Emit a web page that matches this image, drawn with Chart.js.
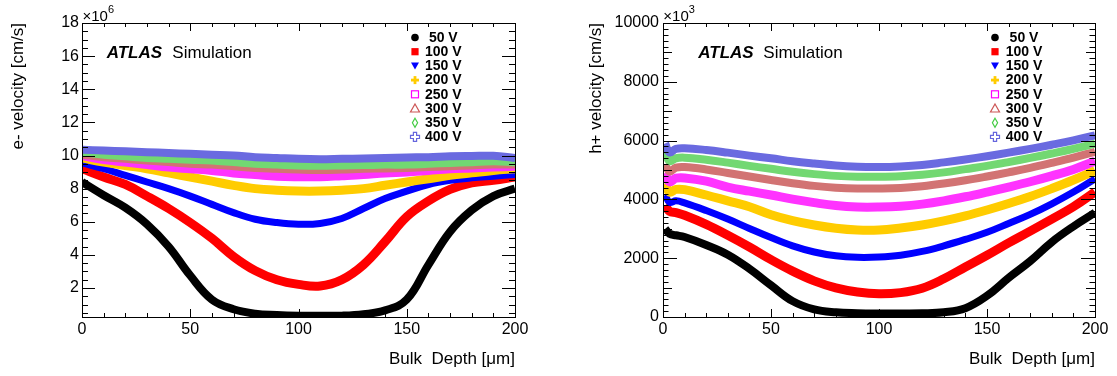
<!DOCTYPE html>
<html><head><meta charset="utf-8">
<script src="https://cdn.jsdelivr.net/npm/chart.js@4.4.0/dist/chart.umd.min.js"></script>
<style>
html,body{margin:0;padding:0;background:#fff;}
#wrap{position:relative;width:1117px;height:376px;overflow:hidden;}
#c1{position:absolute;left:0;top:0;}
#c2{position:absolute;left:558px;top:0;}
</style></head><body>
<div id="wrap"><canvas id="c1" width="558" height="376"></canvas><canvas id="c2" width="559" height="376"></canvas></div>
<script>
// ---------- data ----------
const seriesLabels = [' 50 V', '100 V', '150 V', '200 V', '250 V', '300 V', '350 V', '400 V'];
const xTicks = [0, 50, 100, 150, 200];
const eYTicks = [2, 4, 6, 8, 10, 12, 14, 16, 18];
const hYTicks = [0, 2000, 4000, 6000, 8000, 10000];
const xTitle = 'Bulk  Depth [\u03bcm]';
const eYTitle = 'e- velocity [cm/s]';
const hYTitle = 'h+ velocity [cm/s]';

// electron velocity (x10^6 cm/s) vs bulk depth (um)
const eDepth = [0, 10, 20, 30, 40, 50, 60, 70, 80, 90, 100, 110, 120, 130, 140, 150, 160, 170, 180, 190, 200];
const e50  = [8.4, 7.6, 6.85, 5.85, 4.5, 2.75, 1.3, 0.72, 0.45, 0.37, 0.33, 0.32, 0.33, 0.42, 0.65, 1.3, 3.4, 5.4, 6.7, 7.55, 8.0];
const e100 = [9.2, 8.7, 8.25, 7.55, 6.8, 5.95, 5.0, 3.9, 3.05, 2.5, 2.22, 2.12, 2.5, 3.4, 4.8, 6.3, 7.25, 7.95, 8.35, 8.5, 8.7];
const e150 = [9.55, 9.2, 8.8, 8.4, 8.0, 7.55, 7.05, 6.55, 6.15, 5.95, 5.85, 5.9, 6.2, 6.8, 7.4, 7.85, 8.25, 8.5, 8.65, 8.75, 8.85];
const e200 = [9.85, 9.6, 9.4, 9.2, 8.95, 8.7, 8.45, 8.2, 8.0, 7.9, 7.85, 7.85, 7.9, 8.0, 8.2, 8.4, 8.6, 8.8, 8.95, 9.1, 9.2];
const e250 = [10.0, 9.75, 9.6, 9.45, 9.3, 9.2, 9.1, 8.95, 8.85, 8.75, 8.72, 8.72, 8.78, 8.85, 8.95, 9.0, 9.1, 9.2, 9.25, 9.3, 9.35];
const e300 = [10.05, 9.9, 9.8, 9.7, 9.6, 9.5, 9.45, 9.35, 9.25, 9.2, 9.15, 9.12, 9.15, 9.2, 9.22, 9.25, 9.3, 9.35, 9.4, 9.45, 9.45];
const e350 = [10.2, 10.05, 9.95, 9.85, 9.8, 9.75, 9.7, 9.6, 9.5, 9.45, 9.4, 9.38, 9.4, 9.42, 9.45, 9.45, 9.5, 9.55, 9.6, 9.65, 9.6];
const e400 = [10.35, 10.3, 10.25, 10.2, 10.15, 10.1, 10.05, 10.0, 9.9, 9.85, 9.8, 9.78, 9.8, 9.82, 9.85, 9.88, 9.9, 9.95, 9.97, 9.98, 9.85];

// hole velocity (x10^3 cm/s) vs bulk depth (um)
const hDepth = [1, 3, 6, 10, 20, 30, 40, 50, 60, 70, 80, 90, 100, 110, 120, 130, 140, 150, 160, 170, 180, 190, 200];
const h50  = [3000, 2830, 2780, 2720, 2450, 2120, 1640, 1080, 540, 260, 160, 130, 120, 120, 125, 160, 300, 720, 1330, 1900, 2550, 3080, 3550];
const h100 = [3800, 3600, 3550, 3460, 3150, 2780, 2380, 1950, 1560, 1230, 990, 850, 790, 830, 980, 1300, 1700, 2100, 2520, 2920, 3330, 3750, 4250];
const h150 = [4150, 3900, 3950, 3880, 3620, 3330, 3010, 2700, 2420, 2210, 2080, 2030, 2040, 2100, 2230, 2420, 2640, 2880, 3180, 3490, 3850, 4250, 4700];
const h200 = [4550, 4250, 4340, 4330, 4150, 3950, 3750, 3480, 3280, 3130, 3020, 2960, 2960, 3030, 3130, 3270, 3440, 3640, 3860, 4100, 4370, 4660, 4980];
const h250 = [4900, 4600, 4720, 4730, 4620, 4420, 4280, 4150, 4010, 3890, 3790, 3740, 3740, 3770, 3840, 3950, 4090, 4250, 4420, 4600, 4800, 5020, 5300];
const h300 = [5200, 4950, 5080, 5100, 5020, 4900, 4780, 4660, 4550, 4460, 4400, 4370, 4370, 4390, 4450, 4540, 4650, 4780, 4920, 5070, 5240, 5420, 5620];
const h350 = [5600, 5300, 5400, 5420, 5350, 5250, 5140, 5040, 4940, 4860, 4800, 4770, 4770, 4790, 4840, 4920, 5030, 5140, 5270, 5410, 5560, 5720, 5900];
const h400 = [5900, 5600, 5720, 5740, 5680, 5590, 5490, 5400, 5300, 5220, 5150, 5110, 5100, 5120, 5170, 5260, 5360, 5470, 5590, 5720, 5860, 6010, 6180];

// ---------- styles ----------
const bandColors   = ['#000000', '#ff0000', '#0000ff', '#ffcc00', '#ff33ff', '#d27373', '#72d872', '#6a6ae0'];
const markerColors = ['#000000', '#ff0000', '#0000ff', '#ffcc00', '#ff00ff', '#cc5555', '#44cc44', '#6666dd'];
const markerStyles = ['circle', 'square', 'triDown', 'plus', 'openSquare', 'openTri', 'openDiamond', 'openPlus'];
const bandWidths   = [8, 9, 7, 9, 9, 8, 8, 8];
const FONT = '"Liberation Sans", Arial, Helvetica, sans-serif';
Chart.defaults.font.family = FONT;
Chart.defaults.color = '#000';

function drawMarker(ctx, style, x, y, color) {
  ctx.save();
  ctx.fillStyle = color; ctx.strokeStyle = color; ctx.lineWidth = 1.2;
  ctx.beginPath();
  switch (style) {
    case 'circle': ctx.arc(x, y, 3.8, 0, 2 * Math.PI); ctx.fill(); break;
    case 'square': ctx.fillRect(x - 3.6, y - 3.6, 7.2, 7.2); break;
    case 'triDown': ctx.moveTo(x - 4, y - 3.3); ctx.lineTo(x + 4, y - 3.3); ctx.lineTo(x, y + 3.7); ctx.closePath(); ctx.fill(); break;
    case 'plus': ctx.fillRect(x - 4, y - 1.4, 8, 2.8); ctx.fillRect(x - 1.4, y - 4, 2.8, 8); break;
    case 'openSquare': ctx.strokeRect(x - 3.5, y - 3.5, 7, 7); break;
    case 'openTri': ctx.moveTo(x, y - 4.5); ctx.lineTo(x + 4.5, y + 3.5); ctx.lineTo(x - 4.5, y + 3.5); ctx.closePath(); ctx.stroke(); break;
    case 'openDiamond': ctx.moveTo(x, y - 4.5); ctx.lineTo(x + 2.6, y); ctx.lineTo(x, y + 4.5); ctx.lineTo(x - 2.6, y); ctx.closePath(); ctx.stroke(); break;
    case 'openPlus': {
      const a = 4.5, b = 1.6;
      ctx.moveTo(x - b, y - a); ctx.lineTo(x + b, y - a); ctx.lineTo(x + b, y - b); ctx.lineTo(x + a, y - b);
      ctx.lineTo(x + a, y + b); ctx.lineTo(x + b, y + b); ctx.lineTo(x + b, y + a); ctx.lineTo(x - b, y + a);
      ctx.lineTo(x - b, y + b); ctx.lineTo(x - a, y + b); ctx.lineTo(x - a, y - b); ctx.lineTo(x - b, y - b);
      ctx.closePath(); ctx.stroke(); break;
    }
  }
  ctx.restore();
}

function decoPlugin(o) {
  return {
    id: 'deco',
    afterDatasetsDraw(chart) {
      const {ctx, chartArea: a, scales: {x, y}} = chart;
      ctx.save();
      ctx.strokeStyle = '#000'; ctx.lineWidth = 1;
      ctx.beginPath();
      for (let i = 0; i <= 20; i++) {
        const v = i * 10;
        const px = Math.round(x.getPixelForValue(v)) + 0.5;
        const L = (v % 50 === 0) ? o.xMajorLen : o.xMinorLen;
        ctx.moveTo(px, a.bottom); ctx.lineTo(px, a.bottom - L);
        ctx.moveTo(px, a.top); ctx.lineTo(px, a.top + L);
      }
      const n = Math.round(o.yMax / o.yMinorStep);
      for (let i = 0; i <= n; i++) {
        const v = i * o.yMinorStep;
        if (v < o.yMin) continue;
        let L = o.yMinorLen;
        if (i % o.yMajorEvery === 0) L = o.yMajorLen;
        else if (o.yMidEvery && i % o.yMidEvery === 0) L = o.yMidLen;
        const py = Math.round(y.getPixelForValue(v)) + 0.5;
        ctx.moveTo(a.left, py); ctx.lineTo(a.left + L, py);
        ctx.moveTo(a.right, py); ctx.lineTo(a.right - L, py);
      }
      ctx.stroke();
      ctx.strokeRect(Math.round(a.left) + 0.5, Math.round(a.top) + 0.5, Math.round(a.width), Math.round(a.height));
      ctx.restore();
    },
    afterDraw(chart) {
      const ctx = chart.ctx;
      ctx.save();
      ctx.fillStyle = '#000';
      ctx.textBaseline = 'alphabetic';
      ctx.textAlign = 'left';
      ctx.font = '15px ' + FONT;
      ctx.fillText('\u00d710', o.expX, 21);
      const w = ctx.measureText('\u00d710').width;
      ctx.font = '11px ' + FONT;
      ctx.fillText(o.exp, o.expX + w, 12.5);
      ctx.font = 'italic bold 17px ' + FONT;
      ctx.fillText('ATLAS', o.atlasX, 57.5);
      ctx.font = '17px ' + FONT;
      ctx.fillText('Simulation', o.simX, 57.5);
      ctx.font = 'bold 14px ' + FONT;
      ctx.textBaseline = 'middle';
      for (let i = 0; i < seriesLabels.length; i++) {
        const yy = 37.5 + i * 14.2;
        drawMarker(ctx, markerStyles[i], o.legMarkX, yy, markerColors[i]);
        ctx.fillStyle = '#000';
        ctx.fillText(seriesLabels[i], o.legTextX, yy + 0.5);
      }
      ctx.restore();
    }
  };
}

function buildChart(id, o) {
  const datasets = o.series.map((ys, i) => ({
    label: seriesLabels[i].trim(),
    data: o.depth.map((xv, j) => ({x: xv, y: ys[j]})),
    borderColor: bandColors[i],
    backgroundColor: bandColors[i],
    borderWidth: bandWidths[i],
    pointRadius: 0,
    fill: false,
    tension: 0.4,
    clip: 0,
    order: o.series.length - i
  }));
  return new Chart(document.getElementById(id), {
    type: 'line',
    data: {datasets},
    options: {
      responsive: false, animation: false, devicePixelRatio: 1,
      layout: {padding: {left: 0, top: 23, right: o.padRight, bottom: 0}},
      plugins: {legend: {display: false}, tooltip: {enabled: false}},
      scales: {
        x: {
          type: 'linear', min: 0, max: 200,
          afterBuildTicks: s => { s.ticks = xTicks.map(v => ({value: v})); },
          afterFit: s => { s.height = 59; },
          grid: {display: false, drawTicks: false}, border: {display: false},
          ticks: {font: {size: 16}, color: '#000', padding: 3, maxRotation: 0, autoSkip: false, callback: v => String(v)},
          title: {display: true, text: xTitle, align: 'end', font: {size: 17}, color: '#000', padding: {top: 0, bottom: 6}}
        },
        y: {
          type: 'linear', min: o.yMin, max: o.yMax,
          afterBuildTicks: s => { s.ticks = o.yTicks.map(v => ({value: v})); },
          afterFit: s => { s.width = o.yWidth; },
          grid: {display: false, drawTicks: false}, border: {display: false},
          ticks: {font: {size: 16}, color: '#000', padding: o.yPad, autoSkip: false, callback: v => String(v)},
          title: {display: true, text: o.yTitle, align: 'end', font: {size: 17}, color: '#000', padding: {top: o.yTitlePad, bottom: 0}}
        }
      }
    },
    plugins: [decoPlugin(o)]
  });
}

buildChart('c1', {
  depth: eDepth, series: [e50, e100, e150, e200, e250, e300, e350, e400],
  yMin: 0.25, yMax: 18, yTicks: eYTicks, yTitle: eYTitle,
  padRight: 43, yWidth: 82, yPad: 3, yTitlePad: 8,
  yMinorStep: 0.5, yMajorEvery: 4, yMidEvery: 0, yMajorLen: 13, yMidLen: 9, yMinorLen: 6,
  xMajorLen: 8, xMinorLen: 4,
  exp: '6', expX: 82.5, atlasX: 106.7, simX: 172.3, legMarkX: 415, legTextX: 425
});
buildChart('c2', {
  depth: hDepth, series: [h50, h100, h150, h200, h250, h300, h350, h400],
  yMin: 0, yMax: 10000, yTicks: hYTicks, yTitle: hYTitle,
  padRight: 22, yWidth: 105, yPad: 4, yTitlePad: 28,
  yMinorStep: 200, yMajorEvery: 10, yMidEvery: 5, yMajorLen: 14, yMidLen: 9, yMinorLen: 5.5,
  xMajorLen: 8, xMinorLen: 4,
  exp: '3', expX: 105.3, atlasX: 140.3, simX: 205.3, legMarkX: 437, legTextX: 447.7
});
</script>
</body></html>
